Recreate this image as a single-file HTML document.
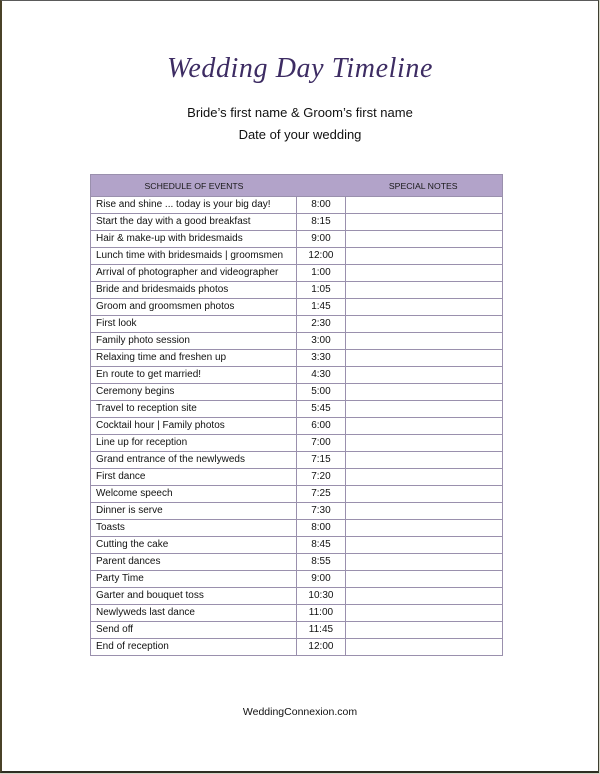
<!DOCTYPE html>
<html>
<head>
<meta charset="utf-8">
<style>
  html, body { margin:0; padding:0; }
  body { width:600px; height:774px; background:#d4d4c6; position:relative; overflow:hidden; font-family:"Liberation Sans", sans-serif; }
  .page { position:absolute; left:0; top:0; width:596px; height:770px; background:#fff;
          border-top:1px solid #5a5a5a; border-left:2px solid #4a4228; border-right:1px solid #3e3e30; border-bottom:2px solid #2e2e22; box-sizing:content-box; }
  .title { position:absolute; left:0; width:600px; top:53px; text-align:center;
           font-family:"Liberation Serif", serif; font-style:italic; font-size:28px; color:#3d2c63; letter-spacing:0.6px; }
  .sub { position:absolute; left:0; width:600px; text-align:center; font-size:13px; color:#111; }
  table { position:absolute; left:90px; top:174px; border-collapse:collapse; font-size:10px; color:#111; table-layout:fixed; }
  td { border:1px solid #9a90ad; height:16px; padding:0 0 0 5px; line-height:16px; white-space:nowrap; background:#fff; overflow:hidden; }
  td.t { text-align:center; padding:0; }
  tr.h td { background:#b2a3c9; height:21px; border-color:#9a90ad; font-size:8.7px; text-align:center; padding:0; color:#1a1a1a; }
  .foot { position:absolute; left:0; width:600px; top:706px; text-align:center; font-size:10.5px; color:#111; }
</style>
</head>
<body>
<div class="page"></div>
<div class="title">Wedding Day Timeline</div>
<div class="sub" style="top:105px;">Bride’s first name &amp; Groom’s first name</div>
<div class="sub" style="top:127px;">Date of your wedding</div>
<table>
  <colgroup><col style="width:206px"><col style="width:48px"><col style="width:157px"></colgroup>
  <tr class="h"><td colspan="2" style="border-right:none;"><span style="display:inline-block;width:206px;text-align:center;margin-right:48px;">SCHEDULE OF EVENTS</span></td><td style="border-left:none;">SPECIAL NOTES</td></tr>
  <tr><td>Rise and shine ... today is your big day!</td><td class="t">8:00</td><td></td></tr>
  <tr><td>Start the day with a good breakfast</td><td class="t">8:15</td><td></td></tr>
  <tr><td>Hair &amp; make-up with bridesmaids</td><td class="t">9:00</td><td></td></tr>
  <tr><td>Lunch time with bridesmaids | groomsmen</td><td class="t">12:00</td><td></td></tr>
  <tr><td>Arrival of photographer and videographer</td><td class="t">1:00</td><td></td></tr>
  <tr><td>Bride and bridesmaids photos</td><td class="t">1:05</td><td></td></tr>
  <tr><td>Groom and groomsmen photos</td><td class="t">1:45</td><td></td></tr>
  <tr><td>First look</td><td class="t">2:30</td><td></td></tr>
  <tr><td>Family photo session</td><td class="t">3:00</td><td></td></tr>
  <tr><td>Relaxing time and freshen up</td><td class="t">3:30</td><td></td></tr>
  <tr><td>En route to get married!</td><td class="t">4:30</td><td></td></tr>
  <tr><td>Ceremony begins</td><td class="t">5:00</td><td></td></tr>
  <tr><td>Travel to reception site</td><td class="t">5:45</td><td></td></tr>
  <tr><td>Cocktail hour | Family photos</td><td class="t">6:00</td><td></td></tr>
  <tr><td>Line up for reception</td><td class="t">7:00</td><td></td></tr>
  <tr><td>Grand entrance of the newlyweds</td><td class="t">7:15</td><td></td></tr>
  <tr><td>First dance</td><td class="t">7:20</td><td></td></tr>
  <tr><td>Welcome speech</td><td class="t">7:25</td><td></td></tr>
  <tr><td>Dinner is serve</td><td class="t">7:30</td><td></td></tr>
  <tr><td>Toasts</td><td class="t">8:00</td><td></td></tr>
  <tr><td>Cutting the cake</td><td class="t">8:45</td><td></td></tr>
  <tr><td>Parent dances</td><td class="t">8:55</td><td></td></tr>
  <tr><td>Party Time</td><td class="t">9:00</td><td></td></tr>
  <tr><td>Garter and bouquet toss</td><td class="t">10:30</td><td></td></tr>
  <tr><td>Newlyweds last dance</td><td class="t">11:00</td><td></td></tr>
  <tr><td>Send off</td><td class="t">11:45</td><td></td></tr>
  <tr><td>End of reception</td><td class="t">12:00</td><td></td></tr>
</table>
<div class="foot">WeddingConnexion.com</div>
</body>
</html>
